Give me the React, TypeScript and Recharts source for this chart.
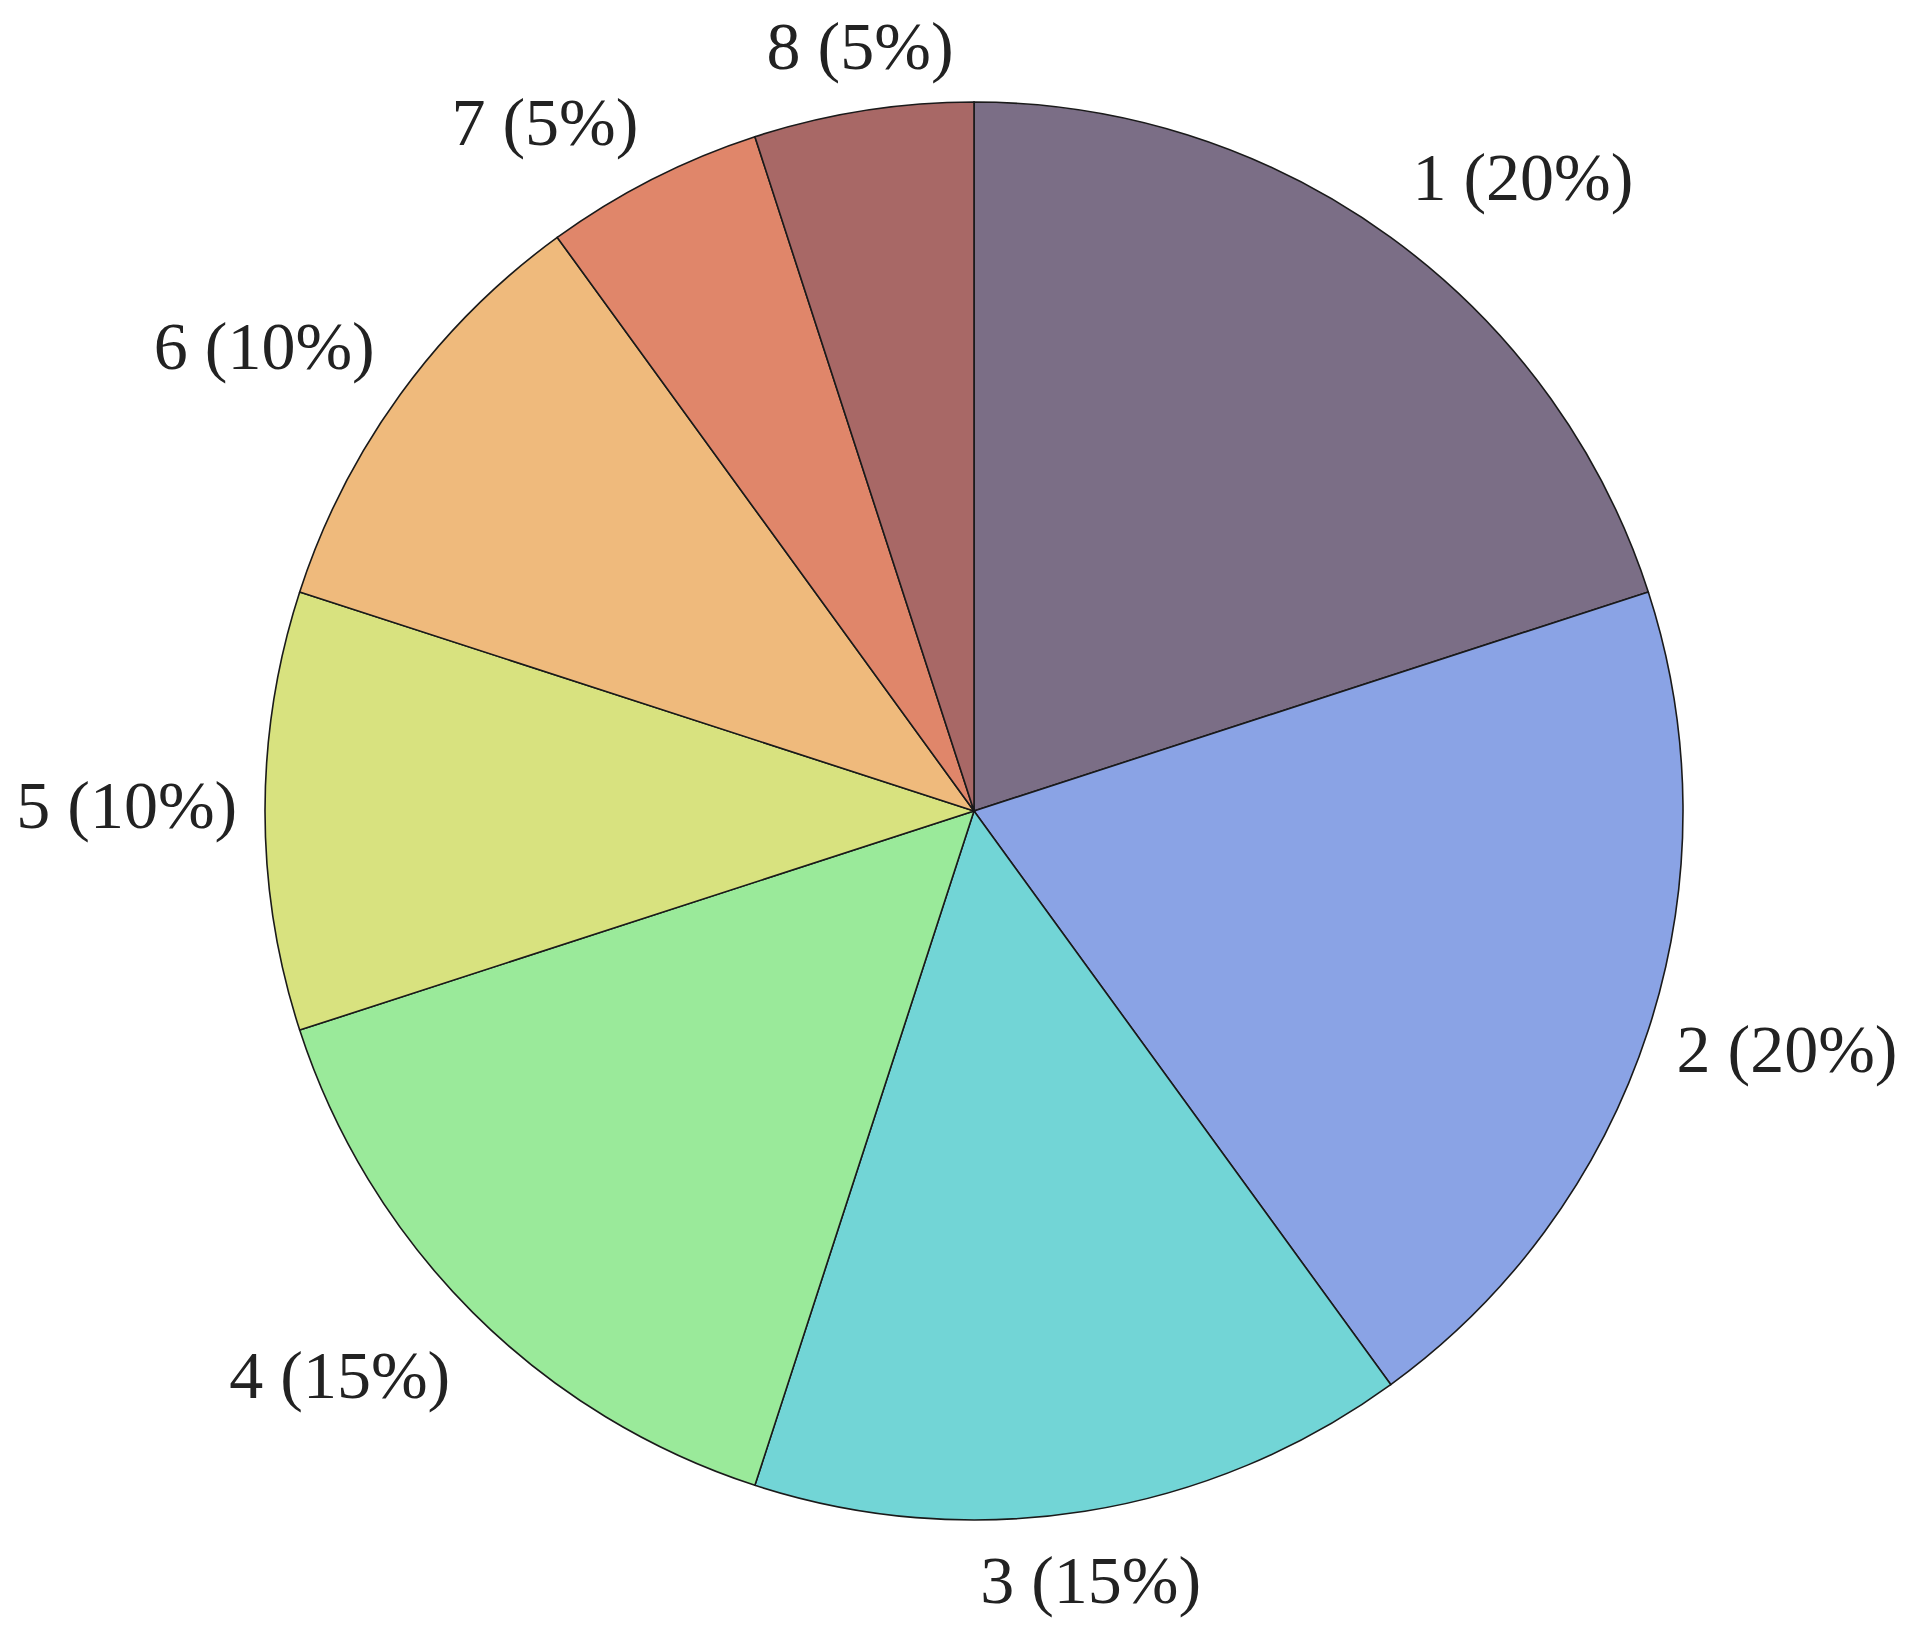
import { PieChart, Pie, Cell } from 'recharts';

const names = ['1', '2', '3', '4', '5', '6', '7', '8'];
const shares = [20, 20, 15, 15, 10, 10, 5, 5];
const colors = ['#7b6e86', '#8aa3e5', '#72d5d6', '#9aea9a', '#d8e27f', '#efba7c', '#e0866a', '#a86866'];

// label placement tweaks (degrees, radius factor) so the texts sit like the original
const labelTurn = [5, -1.5, 0.4, 3.2, 0.2, -2.9, -5, 0.5];
const labelReach = [1.18, 1.196, 1.1, 1.2, 1.195, 1.195, 1.142, 1.087];

const data = names.map((n, i) => ({ name: n, value: shares[i] }));

const RAD = Math.PI / 180;
const FONT = 68;

function renderLabel(props: any) {
  const { cx, cy, midAngle, outerRadius, index } = props;
  const a = (midAngle - labelTurn[index]) * RAD;
  const r = outerRadius * labelReach[index];
  const x = cx + r * Math.cos(a);
  const y = cy - r * Math.sin(a);
  return (
    <text
      x={x}
      y={y + FONT * 0.3}
      textAnchor="middle"
      fill="#222"
      fontSize={FONT}
      fontFamily='"Liberation Serif", "Times New Roman", serif'
    >
      {`${names[index]} (${shares[index]}%)`}
    </text>
  );
}

export default function App() {
  return (
    <div style={{ width: 1900, height: 1622, background: '#fff' }}>
      <PieChart width={1900} height={1622}>
        <Pie
          data={data}
          dataKey="value"
          nameKey="name"
          cx={961}
          cy={798}
          outerRadius={709}
          startAngle={90}
          endAngle={-270}
          stroke="#1a1a1a"
          strokeWidth={1.6}
          label={renderLabel}
          labelLine={false}
          isAnimationActive={false}
        >
          {data.map((d, i) => (
            <Cell key={d.name} fill={colors[i]} />
          ))}
        </Pie>
      </PieChart>
    </div>
  );
}
